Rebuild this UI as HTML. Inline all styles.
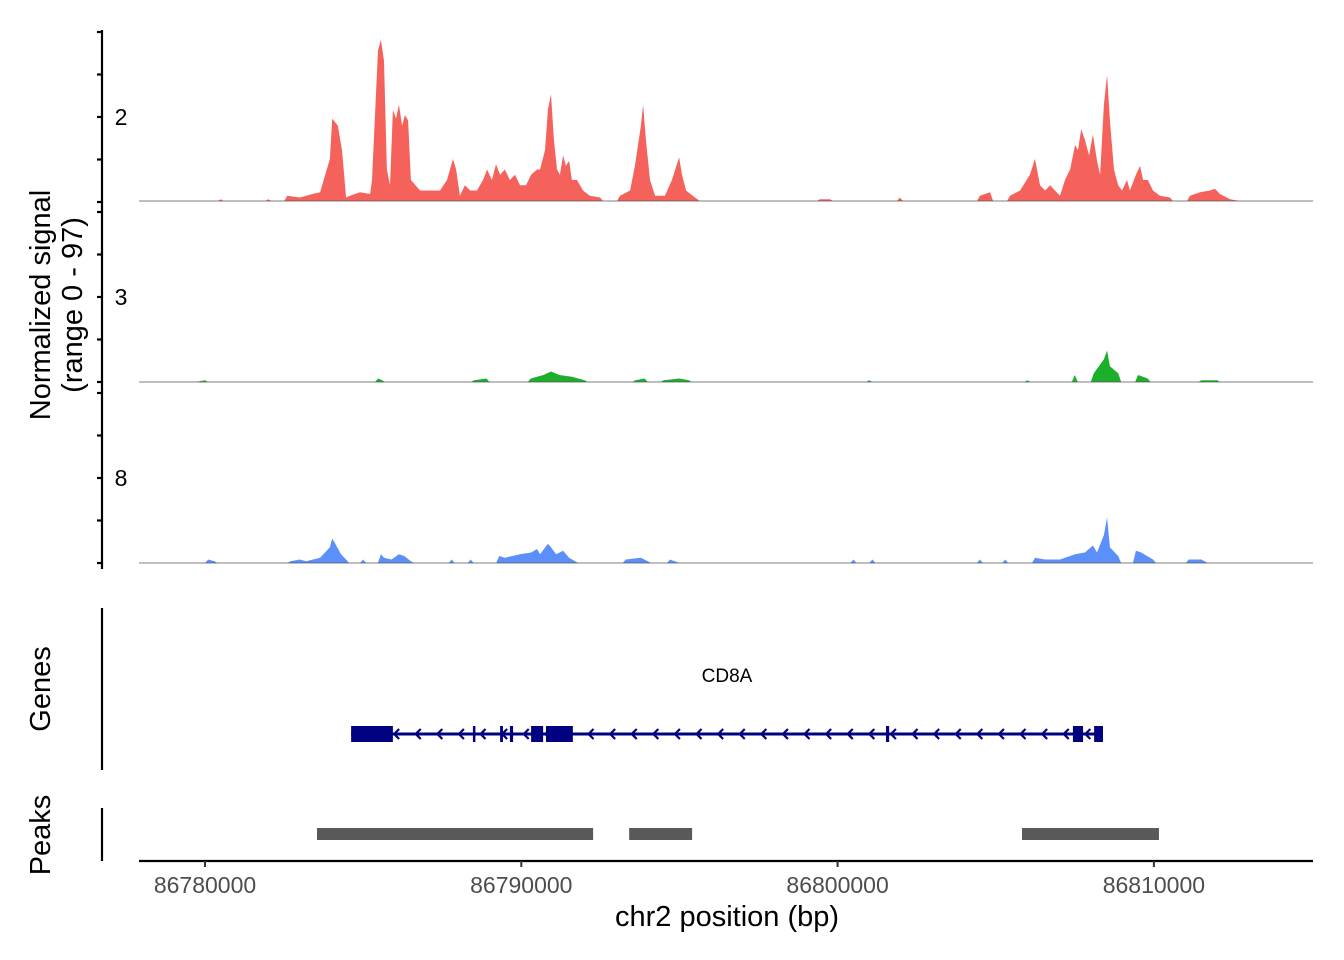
<!DOCTYPE html>
<html><head><meta charset="utf-8"><style>
html,body{margin:0;padding:0;background:#fff;}
svg{display:block;font-family:"Liberation Sans",Arial,sans-serif;}
</style></head><body>
<svg id="chart" width="1344" height="960" viewBox="0 0 1344 960">
<g id="tracks"></g>
<g id="yaxis"></g>
<text transform="translate(50,305) rotate(-90)" text-anchor="middle" font-size="29" fill="#000">Normalized signal</text>
<text transform="translate(82,305) rotate(-90)" text-anchor="middle" font-size="29" fill="#000">(range 0 - 97)</text>
<g id="genes"></g>
<line x1="102" y1="608" x2="102" y2="770" stroke="#000" stroke-width="2.2"/>
<text transform="translate(50,689) rotate(-90)" text-anchor="middle" font-size="29">Genes</text>
<text x="727" y="682" text-anchor="middle" font-size="19">CD8A</text>
<g id="peaks"></g>
<line x1="102" y1="808" x2="102" y2="861" stroke="#000" stroke-width="2.2"/>
<text transform="translate(50,835) rotate(-90)" text-anchor="middle" font-size="29">Peaks</text>
<g id="xaxis"></g>
<text x="727" y="926" text-anchor="middle" font-size="29">chr2 position (bp)</text>
</svg>
<script>
const NS="http://www.w3.org/2000/svg";
const startKb=86780;
const xTicks=[86780000,86790000,86800000,86810000];
const trackNames=["2","3","8"];
const trackColors=["#F5625C","#1DAE2B","#5B8FF9"];
const pos1=[-0.3,0.5,2,2.6,3.0,3.4,3.64,3.95,4.02,4.2,4.33,4.46,4.58,4.9,5.22,5.28,5.47,5.56,5.66,5.75,5.85,5.94,6.04,6.13,6.23,6.32,6.42,6.51,6.8,7.11,7.43,7.65,7.84,7.94,8.06,8.22,8.38,8.6,8.79,8.92,9.07,9.2,9.33,9.48,9.64,9.8,9.96,10.15,10.31,10.5,10.59,10.75,10.84,10.94,11.03,11.13,11.22,11.32,11.41,11.51,11.6,11.76,11.95,12.17,12.49,13.12,13.44,13.59,13.78,13.85,13.94,14.07,14.23,14.54,14.76,14.99,15.08,15.21,15.49,15.65,19.44,19.76,21.97,24.5,24.82,25.45,25.77,26.08,26.24,26.4,26.56,26.72,26.87,27.03,27.19,27.35,27.51,27.6,27.7,27.82,27.95,28.07,28.2,28.3,28.42,28.52,28.61,28.74,28.87,28.99,29.15,29.24,29.43,29.56,29.66,29.81,29.97,30.19,30.51,31.14,31.46,31.77,31.93,32.09,32.41,32.72];
const val1=[0,1,1,3,2,4,5,24,47,43,29,2,3,5,4,12,86,92,80,18,9,52,47,55,43,49,46,12,6,6,6,12,24,18,3,9,6,6,12,18,12,21,15,18,12,15,9,9,15,18,18,29,52,61,35,18,15,26,20,23,12,12,6,3,2,3,6,20,43,55,35,12,3,3,12,25,15,6,2,0,1,1,2,3,5,3,6,15,24,9,6,9,6,3,12,18,32,29,41,35,26,38,23,15,55,72,46,18,9,6,12,6,15,20,12,12,6,3,2,3,5,6,7,4,1,0];
const pos2=[-0.3,0,5.47,5.6,8.5,8.9,10.3,10.7,10.94,11.2,11.6,12,13.6,13.9,14.5,15,15.3,21,26,27.5,28.1,28.42,28.52,28.61,28.87,29.5,29.8,31.5,32,33.5];
const val2=[0,1,2,1,1,2,2,4,6,4,3,1,1,2,1,2,1,1,1,4,5,13,18,9,5,4,2,1,1,0];
const pos3=[0,0.1,0.3,2.7,3.0,3.2,3.64,3.95,4.02,4.12,4.3,4.46,5.0,5.56,5.66,5.9,6.13,6.3,6.51,7.8,8.4,9.3,9.48,9.96,10.31,10.5,10.59,10.84,10.94,11.1,11.32,11.51,11.8,13.3,13.78,14.0,14.7,15.0,20.5,21.1,24.5,25.3,26.24,26.56,27.03,27.51,27.82,28.07,28.2,28.42,28.52,28.61,28.87,29.43,29.6,29.97,31.1,31.5,31.7];
const val3=[0,2,1,1,2,1,3,9,14,11,5,2,2,5,3,2,5,4,1,2,2,4,3,5,6,8,5,11,9,5,7,3,0,2,3,1,2,0,2,2,2,2,3,2,2,5,6,10,6,16,26,9,4,7,6,2,2,2,0];
const exonStarts=[4.62,8.47,9.33,9.64,10.31,10.78,21.53,27.44,28.11];
const exonEnds=[5.94,8.50,9.42,9.74,10.69,11.63,21.63,27.76,28.39];
const geneStart=4.62, geneEnd=28.39;
const peakStarts=[3.54,13.41,25.83];
const peakEnds=[12.27,15.40,30.16];
const yMax=97;

function xs(kb){return 205+(kb)*31.63;}
function xbp(bp){return xs(bp/1000-startKb);}
const baselines=[201,382,563];
function ys(v,b){return b-v/yMax*170;}
function mk(tag,attrs,parent){const e=document.createElementNS(NS,tag);for(const k in attrs)e.setAttribute(k,attrs[k]);parent.appendChild(e);return e;}
const tracks=document.getElementById('tracks');
const allPos=[pos1,pos2,pos3], allVal=[val1,val2,val3];
for(let t=0;t<3;t++){
  const b=baselines[t];
  const P=allPos[t], V=allVal[t];
  let d="M"+xs(P[0]).toFixed(1)+","+b;
  for(let i=0;i<P.length;i++){
    if(i>0 && P[i]-P[i-1]>0.5){
      d+=" L"+(xs(P[i-1])+3).toFixed(1)+","+b+" L"+(xs(P[i])-3).toFixed(1)+","+b;
    }
    d+=" L"+xs(P[i]).toFixed(1)+","+ys(V[i],b).toFixed(1);
  }
  d+=" L"+xs(P[P.length-1]).toFixed(1)+","+b+" Z";
  const p=mk('path',{d:d,fill:trackColors[t]},tracks);
  
  
  const l=mk('line',{x1:139,x2:1313,y1:b,y2:b,stroke:'#555','stroke-width':0.8},tracks);
  
  
}
const ya=document.getElementById('yaxis');
mk('line',{x1:102,x2:102,y1:30,y2:569,stroke:'#000','stroke-width':2.2},ya);
for(let t=0;t<3;t++){
  const b=baselines[t]+(t===0?1:0);
  for(let k=0;k<5;k++){
    const y=b-k*42.5;
    const tk=mk('line',{x1:97,x2:102,y1:y,y2:y,stroke:'#000','stroke-width':2.2},ya);
    
    
  }
  const lb=mk('text',{x:121,y:b-85+8,'text-anchor':'middle','font-size':23,fill:'#000'},ya);
  lb.textContent=trackNames[t];
  
  
}
const g=document.getElementById('genes');
const gy=734;
const gl=mk('line',{x1:xs(geneStart),x2:xs(geneEnd),y1:gy,y2:gy,stroke:'#000080','stroke-width':3},g);


for(let x=xs(geneStart)+44;x<xs(geneEnd)-10;x+=21.6){
  const a=mk('polyline',{points:(x+4)+","+(gy-5)+" "+(x-1)+","+gy+" "+(x+4)+","+(gy+5),fill:'none',stroke:'#000080','stroke-width':2.2},g);
  
  
}
for(let i=0;i<exonStarts.length;i++){
  const w=Math.max(2.5,xs(exonEnds[i])-xs(exonStarts[i]));
  const r=mk('rect',{x:xs(exonStarts[i]),y:gy-8,width:w,height:16,fill:'#000080'},g);
  
  
}
const pk=document.getElementById('peaks');
for(let i=0;i<peakStarts.length;i++){
  const r=mk('rect',{x:xs(peakStarts[i]),y:828,width:xs(peakEnds[i])-xs(peakStarts[i]),height:12,fill:'#595959'},pk);
  
  
}
const xa=document.getElementById('xaxis');
mk('line',{x1:139,x2:1313,y1:861,y2:861,stroke:'#000','stroke-width':2.2},xa);
xTicks.forEach(v=>{
  const x=xbp(v);
  const tk=mk('line',{x1:x,x2:x,y1:861,y2:867,stroke:'#333','stroke-width':2},xa);
  
  
  const t=mk('text',{x:x,y:893,'text-anchor':'middle','font-size':23,fill:'#4d4d4d'},xa);
  t.textContent=String(v);
  
  
});
</script>
</body></html>
